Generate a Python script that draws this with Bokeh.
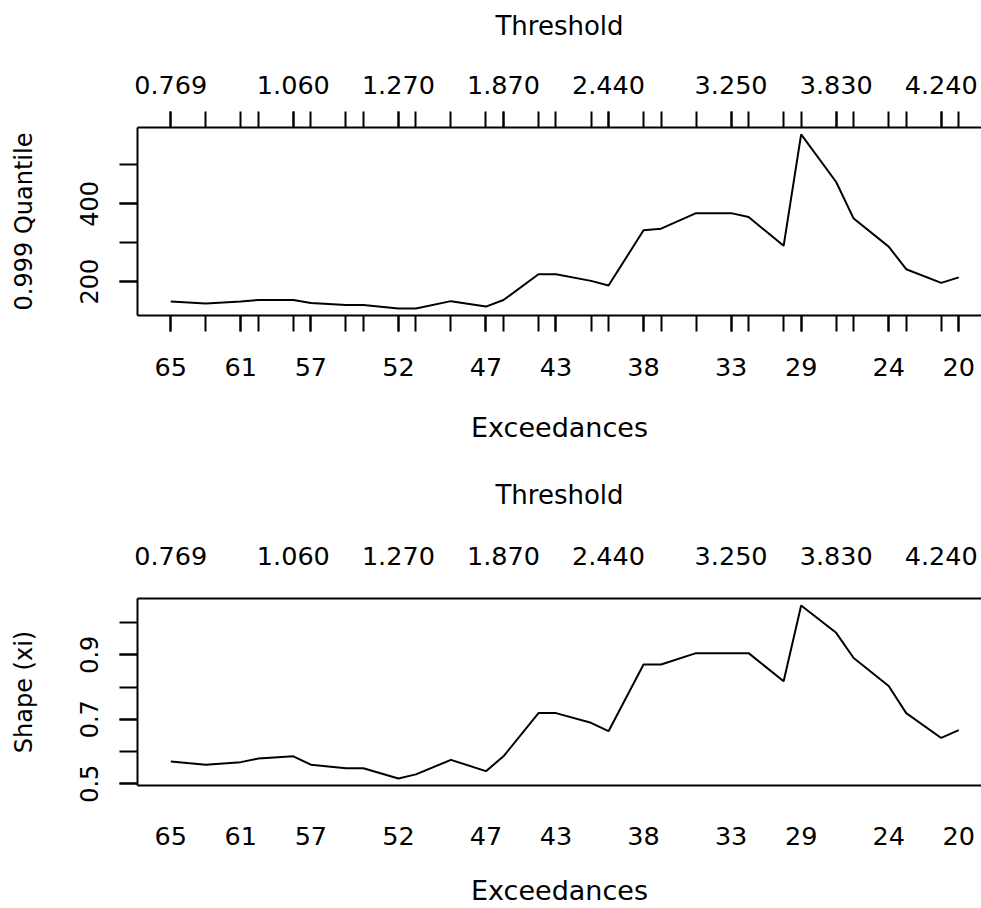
import math
from bokeh.plotting import figure
from bokeh.layouts import column
from bokeh.models import Range1d, FixedTicker, LinearAxis
from bokeh.embed import file_html
from bokeh.resources import INLINE

# ---- data ----
exceedances = [65, 63, 61, 60, 58, 57, 55, 54, 52, 51, 49, 47, 46, 44, 43,
               41, 40, 38, 37, 35, 33, 32, 30, 29, 27, 26, 24, 23, 21, 20]
quantile_999 = [149, 144, 149, 153, 153, 145, 140, 140, 131, 131, 150, 136, 153, 219, 219,
                202, 190, 332, 336, 376, 376, 366, 292, 578, 456, 362, 290, 232, 197, 211]
shape_xi = [0.569, 0.559, 0.567, 0.578, 0.585, 0.559, 0.548, 0.548, 0.516, 0.529,
            0.574, 0.539, 0.585, 0.719, 0.719, 0.689, 0.663, 0.870, 0.870, 0.905,
            0.905, 0.905, 0.818, 1.053, 0.968, 0.890, 0.803, 0.719, 0.642, 0.666]
exceedance_labels = [65, 61, 57, 52, 47, 43, 38, 33, 29, 24, 20]
threshold_at = [65, 58, 52, 46, 40, 33, 27, 21]
threshold_labels = ["0.769", "1.060", "1.270", "1.870", "2.440", "3.250", "3.830", "4.240"]
quant_ticks = [200, 300, 400, 500]
quant_labelled = [200, 400]
shape_ticks = [0.5, 0.6, 0.7, 0.8, 0.9, 1.0]
shape_labelled = [0.5, 0.7, 0.9]

FONT = "DejaVu Sans"
TICK_FS = "25.5px"
YTICK_FS = "24px"
THR_FS = "26px"
EXC_FS = "27px"
YLAB_FS = "24px"

X_START, X_END = 66.9, 18.7


def rlim(vals):
    lo, hi = min(vals), max(vals)
    pad = 0.04 * (hi - lo)
    return lo - pad, hi + pad


def style_axis(ax, fs, label_fs):
    ax.axis_line_color = "black"
    ax.axis_line_width = 2
    ax.major_tick_line_color = "black"
    ax.major_tick_line_width = 2
    ax.minor_tick_line_color = "black"
    ax.minor_tick_line_width = 2
    ax.major_tick_in = 0
    ax.minor_tick_in = 0
    ax.major_label_text_font = FONT
    ax.major_label_text_font_size = fs
    ax.major_label_text_color = "black"
    ax.axis_label_text_font = FONT
    ax.axis_label_text_font_size = label_fs
    ax.axis_label_text_font_style = "normal"
    ax.axis_label_text_color = "black"


def make_panel(y, ylabel, yticks, ylabelled, ticks_on_x, height, btop, bbottom,
               top_std, top_lab_std, bot_std, bot_lab_std):
    ylo, yhi = rlim(y)
    p = figure(width=981, height=height, output_backend="svg", toolbar_location=None,
               x_range=Range1d(X_START, X_END), y_range=Range1d(ylo, yhi),
               x_axis_location=None, y_axis_location=None,
               min_border_left=137, min_border_right=0,
               min_border_top=btop, min_border_bottom=bbottom)
    p.outline_line_color = None
    p.grid.visible = False
    p.background_fill_color = "white"
    p.border_fill_color = "white"

    tick_out = 16 if ticks_on_x else 0

    # bottom axis: exceedances
    xb = LinearAxis(axis_label="Exceedances")
    xb.ticker = FixedTicker(ticks=exceedance_labels, minor_ticks=exceedances)
    style_axis(xb, TICK_FS, EXC_FS)
    xb.major_tick_out = tick_out
    xb.minor_tick_out = tick_out
    xb.major_label_standoff = bot_std
    xb.axis_label_standoff = bot_lab_std
    if not ticks_on_x:
        xb.major_tick_line_color = None
        xb.minor_tick_line_color = None
    p.add_layout(xb, "below")

    # top axis: threshold
    xt = LinearAxis(axis_label="Threshold")
    xt.ticker = FixedTicker(ticks=threshold_at, minor_ticks=exceedances)
    xt.major_label_overrides = {k: v for k, v in zip(threshold_at, threshold_labels)}
    style_axis(xt, TICK_FS, THR_FS)
    xt.major_tick_out = tick_out
    xt.minor_tick_out = tick_out
    xt.major_label_standoff = top_std
    xt.axis_label_standoff = top_lab_std
    if not ticks_on_x:
        xt.major_tick_line_color = None
        xt.minor_tick_line_color = None
    p.add_layout(xt, "above")

    # left axis
    yl = LinearAxis(axis_label=ylabel)
    yl.ticker = FixedTicker(ticks=ylabelled, minor_ticks=yticks)
    style_axis(yl, YTICK_FS, YLAB_FS)
    yl.major_tick_out = 18
    yl.minor_tick_out = 18
    yl.major_label_orientation = "vertical"
    yl.major_label_standoff = 21
    yl.axis_label_standoff = 40
    p.add_layout(yl, "left")

    p.line(x=exceedances, y=y, line_color="black", line_width=2)
    return p


p1 = make_panel(quantile_999, "0.999 Quantile", quant_ticks, quant_labelled, True,
                height=455, btop=127, bbottom=140,
                top_std=18, top_lab_std=32, bot_std=26, bot_lab_std=33)
p2 = make_panel(shape_xi, "Shape (xi)", shape_ticks, shape_labelled, False,
                height=453, btop=143, bbottom=122,
                top_std=34, top_lab_std=34, bot_std=41, bot_lab_std=27)

layout = column(p1, p2, spacing=0)
open("out.html", "w").write(file_html(layout, INLINE))
